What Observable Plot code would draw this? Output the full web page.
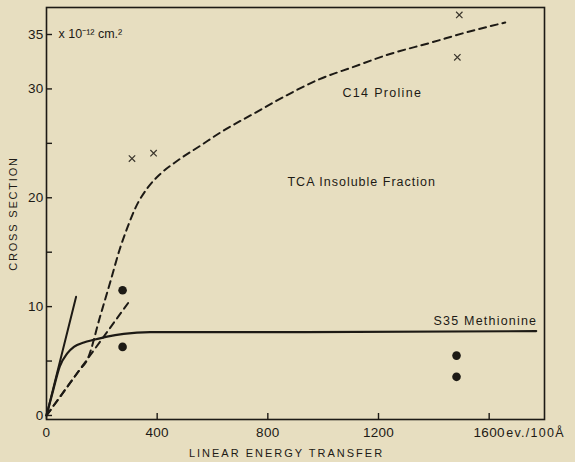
<!DOCTYPE html>
<html>
<head>
<meta charset="utf-8">
<script src="https://cdn.jsdelivr.net/npm/d3@7"></script>
<script src="https://cdn.jsdelivr.net/npm/@observablehq/plot@0.6"></script>
<style>
  html, body { margin: 0; padding: 0; background: #e7dec0; }
  #chart svg { display: block; }
</style>
</head>
<body>
<div id="chart"></div>
<script>
// ---- data (linear energy transfer in ev/100Å, cross section in 1e-12 cm²) ----
const prolineLET = [0, 60, 120, 147, 195, 231, 265, 293, 322, 365, 412, 473, 557, 635, 747, 867, 987, 1107, 1228, 1396, 1504, 1658];
const prolineCS  = [0, 2.1, 4.2, 5.1, 9.2, 12.3, 15.3, 17.3, 19.1, 20.9, 22.2, 23.4, 24.8, 26.1, 27.7, 29.4, 30.9, 32.0, 33.1, 34.3, 35.1, 36.1];

const prolineLineLET = [0, 297];
const prolineLineCS  = [0, 10.4];

const methionineLET = [0, 24, 48, 75, 99, 135, 171, 219, 279, 375, 800, 1770];
const methionineCS  = [0, 2.3, 4.5, 5.7, 6.3, 6.7, 6.95, 7.25, 7.5, 7.65, 7.65, 7.75];

const methionineLineLET = [0, 107];
const methionineLineCS  = [0, 10.9];

const crossLET = [309, 387, 1492, 1485];
const crossCS  = [23.6, 24.1, 36.8, 32.9];

const dotLET = [275, 275, 1482, 1482];
const dotCS  = [11.5, 6.3, 5.5, 3.55];

const xTicks = [0, 400, 800, 1200, 1600];
const yTickMarks = [0, 5, 10, 15, 20, 25, 30, 35];
const yTickLabels = [0, 10, 20, 30, 35];

const labelText = ["C14 Proline", "TCA Insoluble Fraction", "S35 Methionine"];
const labelLET  = [1070, 871, 1399];
const labelCS   = [29.3, 21.1, 8.27];

const xTitle = "LINEAR ENERGY TRANSFER";
const yTitle = "CROSS SECTION";
const yUnit = "x 10⁻¹² cm.²";
const xUnit = "ev./100Å";

// ---- build tables ----
const zip = (xs, ys) => xs.map((x, i) => ({x, y: ys[i]}));
const proline = zip(prolineLET, prolineCS);
const prolineLine = zip(prolineLineLET, prolineLineCS);
const methionine = zip(methionineLET, methionineCS);
const methionineLine = zip(methionineLineLET, methionineLineCS);
const crosses = zip(crossLET, crossCS);
const dots = zip(dotLET, dotCS);
const labels = labelText.map((t, i) => ({t, x: labelLET[i], y: labelCS[i]}));

const ink = "#1d1a15";
const W = 575, H = 462;
const mL = 46, mR = 31, mT = 7, mB = 43;
const plotW = W - mL - mR, plotH = H - mT - mB;
const tick = 6;
const font = "Liberation Sans, Arial, sans-serif";

const chart = Plot.plot({
  width: W,
  height: H,
  marginLeft: mL,
  marginRight: mR,
  marginTop: mT,
  marginBottom: mB,
  style: {background: "#e7dec0", color: ink, fontFamily: font, fontSize: "13px"},
  x: {domain: [0, 1800]},
  y: {domain: [-0.37, 37.48]},
  marks: [
    Plot.frame({stroke: ink, strokeWidth: 1.6}),
    // inward tick marks
    Plot.ruleX(xTicks, {x: d => d, stroke: ink, strokeWidth: 1.4, insetTop: plotH - tick}),
    Plot.ruleY(yTickMarks, {y: d => d, stroke: ink, strokeWidth: 1.4, insetRight: plotW - tick}),
    Plot.axisX({ticks: xTicks, tickSize: 0, tickPadding: 8, label: null, fontSize: 13.5, fill: ink, tickFormat: d => String(d)}),
    Plot.axisY({ticks: yTickLabels, tickSize: 0, tickPadding: 3, label: null, fontSize: 13.5, fill: ink, tickFormat: d => String(d)}),
    // curves
    Plot.line(prolineLine, {x: "x", y: "y", stroke: ink, strokeWidth: 2, strokeDasharray: "7,5"}),
    Plot.line(proline, {x: "x", y: "y", stroke: ink, strokeWidth: 2, strokeDasharray: "7,5", curve: "monotone-x"}),
    Plot.line(methionineLine, {x: "x", y: "y", stroke: ink, strokeWidth: 2}),
    Plot.line(methionine, {x: "x", y: "y", stroke: ink, strokeWidth: 2.2, curve: "monotone-x"}),
    // points
    Plot.dot(crosses, {x: "x", y: "y", symbol: "times", r: 3, stroke: "#3a352c", strokeWidth: 1.2}),
    Plot.dot(dots, {x: "x", y: "y", r: 4.3, fill: ink, stroke: "none"}),
    // annotations
    Plot.text(labels, {x: "x", y: "y", text: "t", textAnchor: "start", lineAnchor: "bottom", fontSize: 12.5, fill: ink}),
    Plot.text([yUnit], {text: d => d, y: () => yTickLabels[yTickLabels.length - 1], frameAnchor: "left", dx: 12, textAnchor: "start", lineAnchor: "middle", fontSize: 12.5, fill: ink}),
    Plot.text([xUnit], {text: d => d, x: () => xTicks[xTicks.length - 1], frameAnchor: "bottom", dx: 17, dy: 17, textAnchor: "start", lineAnchor: "bottom", fontSize: 12.5, fill: ink}),
    Plot.text([xTitle], {text: d => d, frameAnchor: "bottom", dx: -9, dy: 37, textAnchor: "middle", lineAnchor: "bottom", fontSize: 11, fill: ink}),
    Plot.text([yTitle], {text: d => d, frameAnchor: "left", dx: -33, rotate: -90, textAnchor: "middle", lineAnchor: "middle", fontSize: 11, fill: ink})
  ]
});

// letter spacing to mimic the hand-lettered originals
const spacing = new Map([
  [xTitle, 2], [yTitle, 1.8], [xUnit, 1.3],
  ["C14 Proline", 1.3], ["TCA Insoluble Fraction", 1.0], ["S35 Methionine", 1.2]
]);
d3.select(chart).selectAll("text").each(function () {
  const t = this.textContent;
  if (spacing.has(t)) this.style.letterSpacing = spacing.get(t) + "px";
  else if (/^\d+$/.test(t)) this.style.letterSpacing = "0.3px";
});
document.getElementById("chart").appendChild(chart);
</script>
</body>
</html>
